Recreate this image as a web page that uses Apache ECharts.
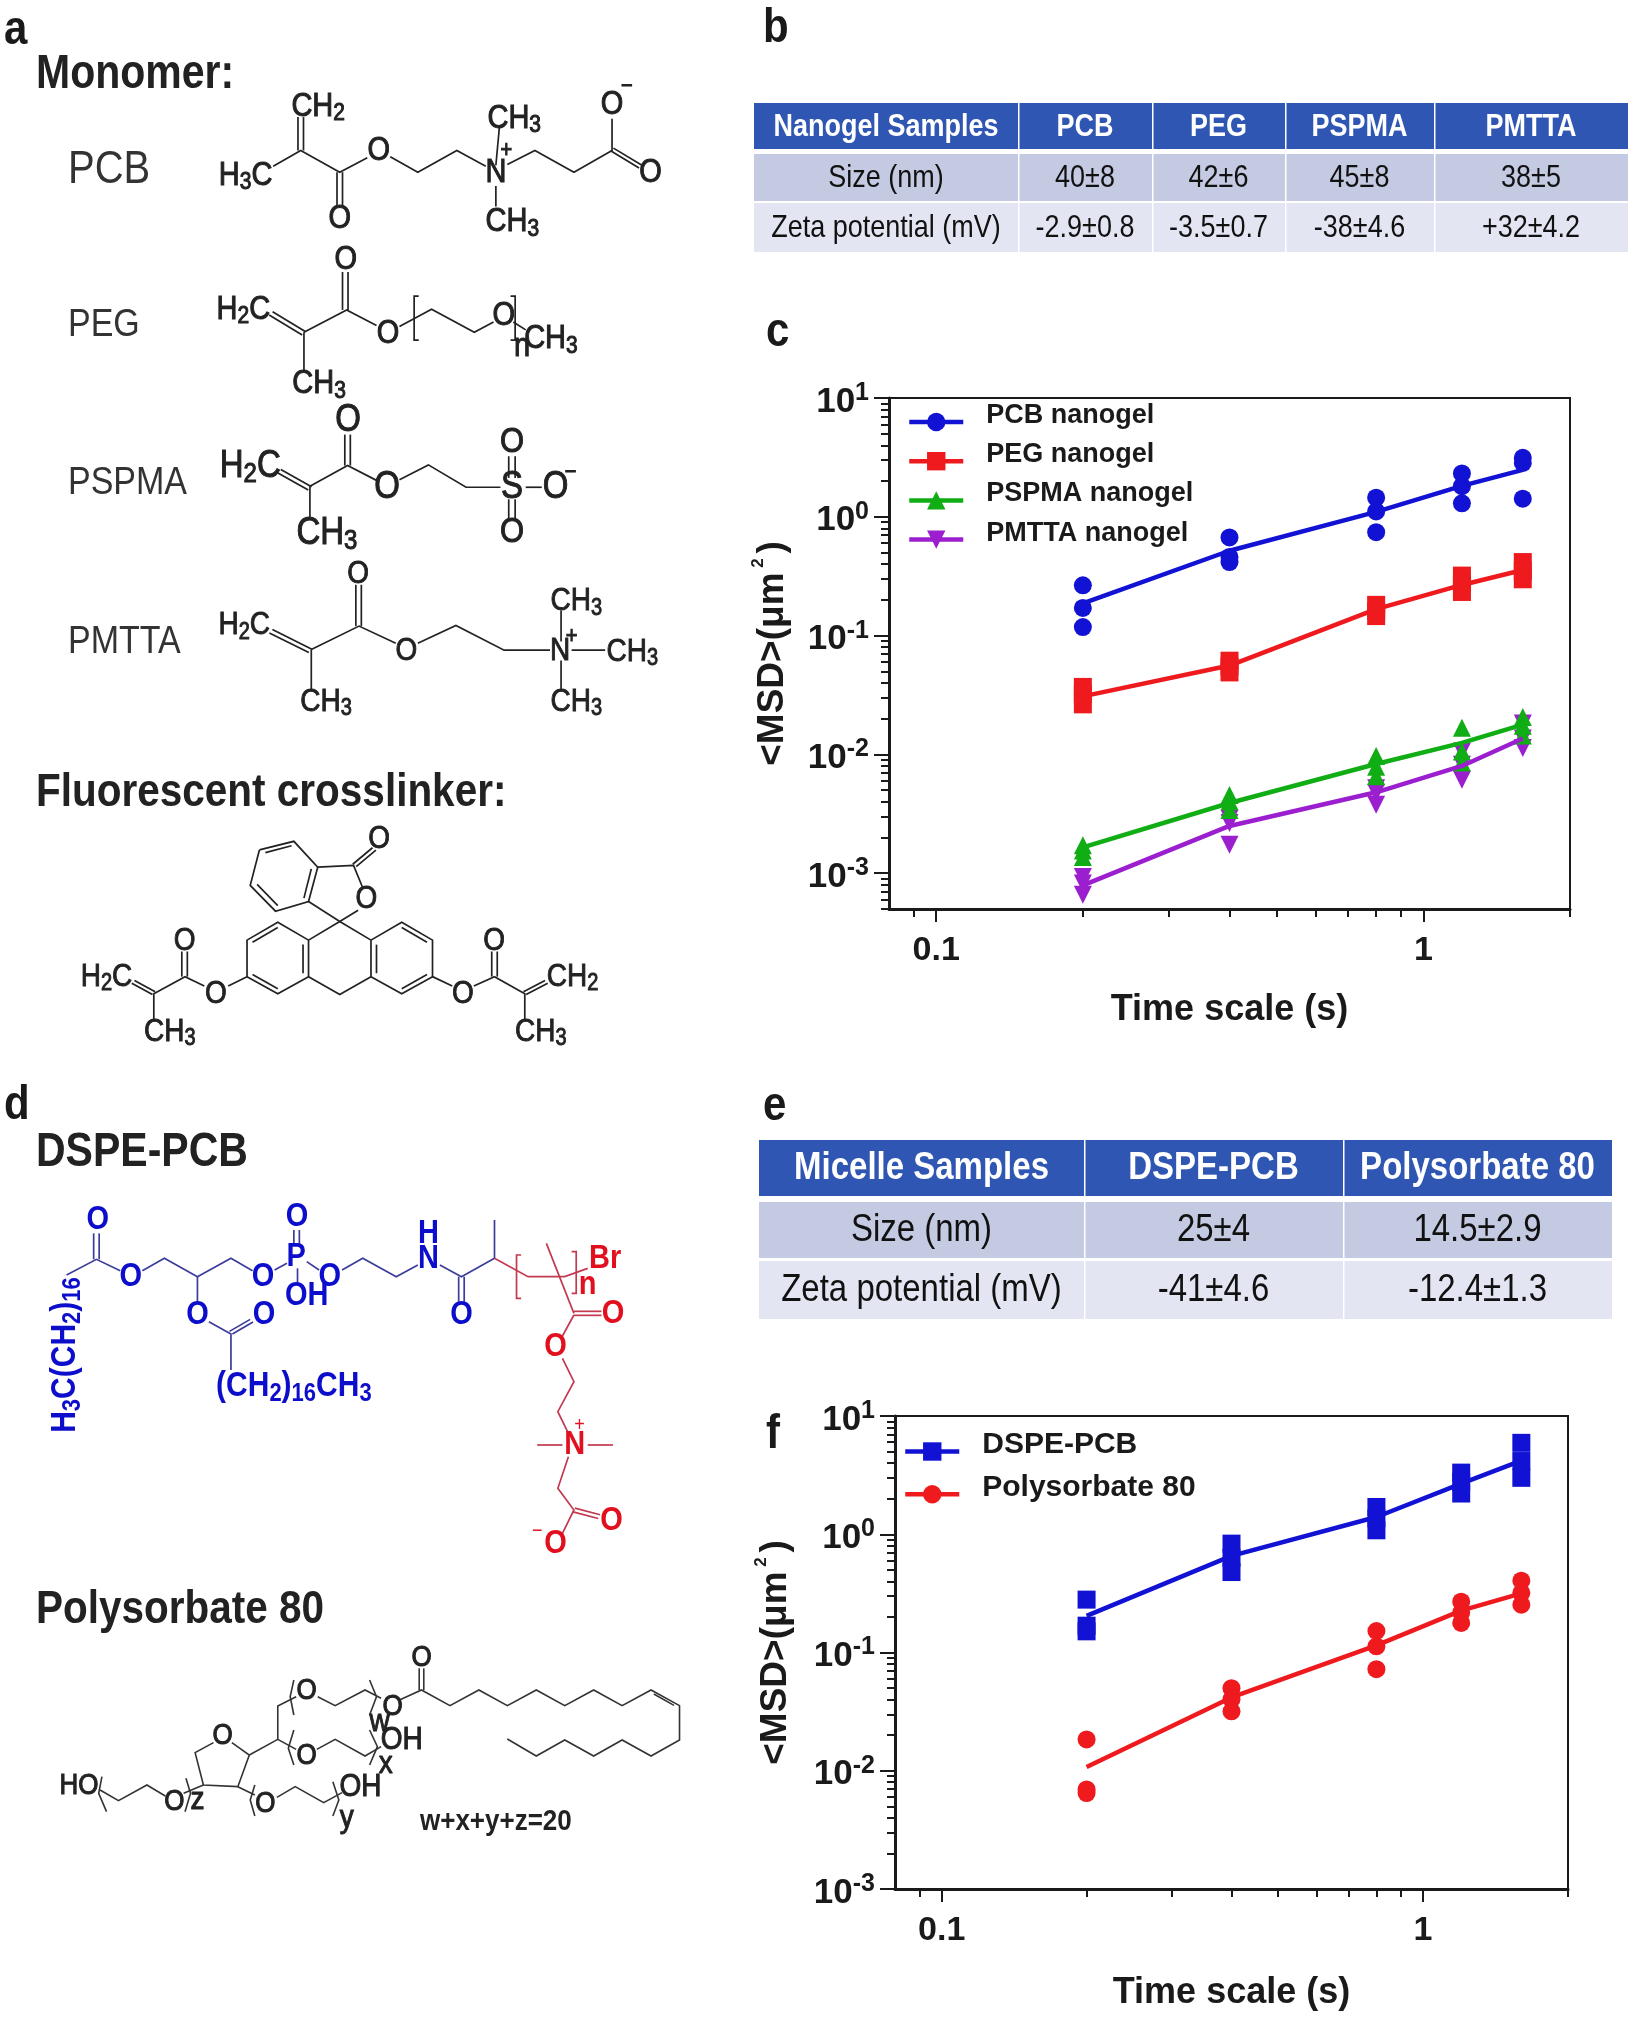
<!DOCTYPE html>
<html>
<head>
<meta charset="utf-8">
<title>MSD nanogel micelle</title>
<script src="https://cdn.jsdelivr.net/npm/echarts@6/dist/echarts.min.js"></script>
<style>
html,body{margin:0;padding:0;background:#fff;}
#main{width:1635px;height:2017px;}
</style>
</head>
<body>
<div id="main"></div>
<script>
// panel c data
const timePoints = [0.2, 0.4, 0.8, 1.2, 1.6];
const pcbMean = [0.187, 0.518, 1.10, 1.82, 2.48];
const pcbReps = [[0.265, 0.171, 0.118], [0.67, 0.46, 0.416], [1.45, 1.11, 0.743], [2.32, 1.81, 1.30], [3.14, 2.84, 1.42]];
const pegMean = [0.0308, 0.056, 0.167, 0.267, 0.357];
const pegReps = [[0.037, 0.0322, 0.0264], [0.0615, 0.055, 0.049], [0.1815, 0.1615, 0.146], [0.32, 0.273, 0.233], [0.416, 0.352, 0.298]];
const pspmaMean = [0.00165, 0.0039, 0.0083, 0.0125, 0.0178];
const pspmaReps = [[0.00172, 0.00155, 0.00137], [0.00456, 0.00403, 0.0034], [0.0097, 0.00787, 0.00655], [0.01675, 0.01057, 0.00857], [0.0207, 0.01746, 0.0144]];
const pmttaMean = [0.00079, 0.0025, 0.0048, 0.008, 0.0136];
const pmttaReps = [[0.00093, 0.00082, 0.00066], [0.00288, 0.00265, 0.00174], [0.00518, 0.00476, 0.00377], [0.01057, 0.0082, 0.00612], [0.0182, 0.0136, 0.0113]];
// panel f data
const dspeMean = [0.204, 0.657, 1.4, 2.68, 4.2];
const dspeReps = [[0.28, 0.1686, 0.151], [0.833, 0.632, 0.479], [1.7, 1.36, 1.08], [3.32, 2.77, 2.21], [5.93, 4.16, 3.0]];
const psMean = [0.01074, 0.0417, 0.115, 0.226, 0.316];
const psReps = [[0.0184, 0.00695, 0.00647], [0.0499, 0.0403, 0.0318], [0.152, 0.1127, 0.0723], [0.269, 0.217, 0.178], [0.405, 0.32, 0.254]];
// ticks
const xMajor = [0.1, 1];
const xMinor = [0.09, 0.2, 0.3, 0.4, 0.5, 0.6, 0.7, 0.8, 0.9, 2];
const yMajor = [0.001, 0.01, 0.1, 1, 10];
const yMinorC = [0.0005, 0.0006, 0.0007, 0.0008, 0.0009, 0.002, 0.003, 0.004, 0.005, 0.006, 0.007, 0.008, 0.009, 0.02, 0.03, 0.04, 0.05, 0.06, 0.07, 0.08, 0.09, 0.2, 0.3, 0.4, 0.5, 0.6, 0.7, 0.8, 0.9, 2, 3, 4, 5, 6, 7, 8, 9];
const yMinorF = yMinorC.slice(5);
// tables
const nanogelHead = ['Nanogel Samples', 'PCB', 'PEG', 'PSPMA', 'PMTTA'];
const nanogelSize = ['Size (nm)', '40±8', '42±6', '45±8', '38±5'];
const nanogelZeta = ['Zeta potential (mV)', '-2.9±0.8', '-3.5±0.7', '-38±4.6', '+32±4.2'];
const micelleHead = ['Micelle Samples', 'DSPE-PCB', 'Polysorbate 80'];
const micelleSize = ['Size (nm)', '25±4', '14.5±2.9'];
const micelleZeta = ['Zeta potential (mV)', '-41±4.6', '-12.4±1.3'];

const BLUE = '#1212d4', RED = '#ee1a1e', GREEN = '#10ad14', PURPLE = '#9b1fcf';
const FONT = '"Liberation Sans", Arial, sans-serif';

function repPairs(reps) {
  const out = [];
  reps.forEach((r, i) => r.forEach(v => out.push([timePoints[i], v])));
  return out;
}
function group(name, color, symbol, mean, reps, xi, yi, rotate) {
  return [
    {
      type: 'line', name: name, xAxisIndex: xi, yAxisIndex: yi, color: color,
      data: mean.map((v, i) => [timePoints[i], v]),
      showSymbol: false, symbol: symbol, symbolRotate: rotate || 0,
      lineStyle: {width: 4.5, color: color}, itemStyle: {color: color}, z: 3, silent: true
    },
    {
      type: 'scatter', name: name, xAxisIndex: xi, yAxisIndex: yi,
      data: repPairs(reps), symbol: symbol, symbolSize: 18, symbolRotate: rotate || 0,
      itemStyle: {color: color, opacity: 1}, z: 2, silent: true
    }
  ];
}
function axesFor(gi, nameGapX, nameGapY, yMin, yMinor) {
  const xCommon = {type: 'log', logBase: 10, gridIndex: gi, min: 0.08, max: 2, position: 'bottom', splitLine: {show: false}};
  const yCommon = {type: 'log', logBase: 10, gridIndex: gi, min: yMin, max: 10, position: 'left', splitLine: {show: false}};
  return {
    x: [
      Object.assign({}, xCommon, {
        name: 'Time scale (s)', nameLocation: 'middle', nameGap: nameGapX,
        nameTextStyle: {fontFamily: FONT, fontWeight: 'bold', fontSize: 36, color: '#1a1a1a'},
        axisLine: {show: true, lineStyle: {color: '#1a1a1a', width: 3}},
        axisTick: {show: true, length: 13, customValues: xMajor, lineStyle: {color: '#1a1a1a', width: 2}},
        axisLabel: {show: true, customValues: xMajor, margin: 25, fontFamily: FONT, fontWeight: 'bold', fontSize: 34, color: '#1a1a1a', formatter: v => String(v)}
      }),
      Object.assign({}, xCommon, {
        axisLine: {show: false},
        axisTick: {show: true, length: 8, customValues: xMinor, lineStyle: {color: '#1a1a1a', width: 2}},
        axisLabel: {show: false}
      })
    ],
    y: [
      Object.assign({}, yCommon, {
        name: '{a|<MSD>(μm}{s| 2 }{a|)}', nameLocation: 'middle', nameGap: nameGapY, nameRotate: 90,
        nameTextStyle: {
          rich: {
            a: {fontFamily: FONT, fontWeight: 'bold', fontSize: 37, color: '#1a1a1a'},
            s: {fontFamily: FONT, fontWeight: 'bold', fontSize: 17, color: '#1a1a1a', padding: [0, 0, 28, 0]}
          }
        },
        axisLine: {show: true, lineStyle: {color: '#1a1a1a', width: 3}},
        axisTick: {show: true, length: 15, customValues: yMajor, lineStyle: {color: '#1a1a1a', width: 2}},
        axisLabel: {
          show: true, customValues: yMajor, margin: 20,
          formatter: v => '{b|10}{s|' + Math.round(Math.log10(v)) + '}',
          rich: {
            b: {fontFamily: FONT, fontWeight: 'bold', fontSize: 35, color: '#1a1a1a', padding: [8, 0, 0, 0]},
            s: {fontFamily: FONT, fontWeight: 'bold', fontSize: 25, color: '#1a1a1a', padding: [0, 0, 10, 0]}
          }
        }
      }),
      Object.assign({}, yCommon, {
        axisLine: {show: false},
        axisTick: {show: true, length: 8, customValues: yMinor, lineStyle: {color: '#1a1a1a', width: 2}},
        axisLabel: {show: false}
      })
    ]
  };
}

// --- text and bond helpers for the drawn panels
const INK = '#222222';
const elements = [];
function txt(x, y, text, size, weight, color, align, extra) {
  const rich = {
    m: {fontFamily: FONT, fontSize: size, fontWeight: weight, fill: color},
    s: {fontFamily: FONT, fontSize: Math.round(size * 0.72), fontWeight: weight, fill: color, padding: [Math.round(size * 0.42), 0, 0, 0]},
    u: {fontFamily: FONT, fontSize: Math.round(size * 0.72), fontWeight: weight, fill: color, padding: [0, 0, Math.round(size * 0.42), 0]}
  };
  if (extra && extra.thick) {
    ['m', 's', 'u'].forEach(k => { rich[k].stroke = color; rich[k].lineWidth = extra.thick; });
  }
  const parts = text.split(/(_[0-9a-z]+|\^[^ ]+)/).filter(p => p);
  const body = parts.map(p => {
    if (p[0] === '_') return '{s|' + p.slice(1) + '}';
    if (p[0] === '^') return '{u|' + p.slice(1) + '}';
    return '{m|' + p + '}';
  }).join('');
  elements.push({
    type: 'text', x: x, y: y, rotation: extra && extra.rotation || 0, scaleY: 1.15, silent: true, z: 20,
    style: {text: body, rich: rich, align: align || 'center', verticalAlign: 'middle', fill: color, fontFamily: FONT, fontSize: size}
  });
}
// A view maps zoom-crop coordinates of a drawing to page coordinates
function view(sx, sy, ox, oy, color, size, weight, bondColor, bondWidth, thick) {
  const px = x => ox + x / sx, py = y => oy + y / sy;
  return {
    bonds(list, c) {
      list.forEach(b => {
        const pts = [];
        for (let i = 0; i < b.length; i += 2) pts.push([px(b[i]), py(b[i + 1])]);
        elements.push({type: 'polyline', silent: true, z: 10, shape: {points: pts}, style: {stroke: c || bondColor, lineWidth: bondWidth, fill: null}});
      });
    },
    atoms(list, c, fs, w) {
      list.forEach(a => txt(px(a[0]), py(a[1]), a[2], a[3] || fs || size, w || weight, c || color, 'center', {thick: thick}));
    },
    px: px, py: py
  };
}
function dbl(x1, y1, x2, y2, off) {
  off = off || 6;
  const dx = x2 - x1, dy = y2 - y1, l = Math.hypot(dx, dy);
  const nx = -dy / l * off, ny = dx / l * off;
  return [[x1 + nx, y1 + ny, x2 + nx, y2 + ny], [x1 - nx, y1 - ny, x2 - nx, y2 - ny]];
}

// panel letters and headings
[['a', 4, 31], ['b', 763, 29], ['c', 766, 333], ['d', 4, 1106], ['e', 763, 1107], ['f', 766, 1435]].forEach(l => txt(l[1], l[2], l[0], 42, 'bold', '#1a1a1a', 'left'));
txt(36, 75, 'Monomer:', 41, 'bold', '#222', 'left');
txt(36, 793, 'Fluorescent crosslinker:', 40.5, 'bold', '#222', 'left');
txt(36, 1153, 'DSPE-PCB', 41, 'bold', '#222', 'left');
txt(36, 1610, 'Polysorbate 80', 40.5, 'bold', '#222', 'left');
txt(68, 170, 'PCB', 40, 'normal', '#333', 'left');
txt(68, 325, 'PEG', 34, 'normal', '#333', 'left');
txt(68, 483, 'PSPMA', 34, 'normal', '#333', 'left');
txt(68, 642, 'PMTTA', 34, 'normal', '#333', 'left');

// monomers, upper crop
const upper = view(2.178, 2.904, 0, 0, INK, 29, 'normal', INK, 1.7, 0.9);
upper.bonds([
  ...dbl(655, 340, 655, 437), [595, 483, 655, 437, 740, 500, 800, 458], ...dbl(740, 500, 740, 600),
  [850, 455, 910, 500, 995, 437, 1058, 483], [1080, 480, 1088, 365], [1080, 540, 1080, 600],
  [1105, 478, 1165, 437, 1250, 500, 1333, 437, 1333, 345], ...dbl(1333, 434, 1395, 484, 5)
]);
upper.atoms([
  [693, 310, 'CH_2'], [535, 510, 'H_3C'], [825, 437, 'O'], [740, 635, 'O'], [1120, 345, 'CH_3'],
  [1080, 503, 'N'], [1116, 645, 'CH_3'], [1333, 305, 'O'], [1417, 503, 'O']
]);
upper.atoms([[1103, 438, '+', 20], [1365, 252, '−', 20]]);
// PEG
upper.bonds([
  ...dbl(590, 910, 662, 968, 6), [662, 965, 755, 900, 820, 945], ...dbl(752, 900, 752, 790),
  [870, 948, 940, 898, 1033, 965, 1075, 935], [912, 860, 902, 860, 902, 988, 912, 988],
  [1112, 860, 1122, 860, 1122, 988, 1112, 988], [1118, 935, 1145, 958], [662, 965, 662, 1080]
]);
upper.atoms([
  [530, 900, 'H_2C'], [753, 755, 'O'], [845, 968, 'O'], [1097, 918, 'O'], [1137, 1008, 'n'],
  [1200, 985, 'CH_3'], [695, 1115, 'CH_3']
]);
// PSPMA
upper.bonds([
  ...dbl(608, 1368, 675, 1418, 6), [675, 1412, 757, 1352, 820, 1395], ...dbl(757, 1352, 757, 1262),
  [870, 1393, 933, 1350, 1015, 1415, 1090, 1415], ...dbl(1115, 1388, 1115, 1325, 7), ...dbl(1115, 1450, 1115, 1510, 7),
  [1145, 1415, 1180, 1415], [675, 1412, 675, 1505]
]);
upper.atoms([
  [545, 1355, 'H_2C', 33], [758, 1220, 'O', 33], [843, 1415, 'O', 33], [1115, 1285, 'O', 31], [1115, 1415, 'S', 33],
  [1115, 1545, 'O', 31], [1210, 1415, 'O', 33], [712, 1550, 'CH_3', 33]
]);
upper.atoms([[1243, 1372, '−', 20]]);

// PMTTA and crosslinker
const mid = view(2.178, 2.904, 0, 540, INK, 28, 'normal', INK, 1.7, 0.8);
mid.bonds([
  ...dbl(590, 265, 676, 322, 6), [678, 318, 782, 250, 862, 300], ...dbl(781, 250, 781, 130),
  [910, 300, 993, 248, 1098, 320, 1198, 320], [1222, 205, 1222, 295], [1245, 320, 1318, 320], [1222, 350, 1222, 435], [678, 318, 678, 438]
]);
mid.atoms([
  [532, 248, 'H_2C'], [780, 100, 'O'], [885, 322, 'O'], [1220, 322, 'N'], [1255, 178, 'CH_3'],
  [1377, 325, 'CH_3'], [1255, 470, 'CH_3'], [710, 470, 'CH_3']
]);
mid.atoms([[1245, 282, '+', 20]]);
mid.bonds([
  [565, 900, 640, 875, 692, 950, 672, 1050, 600, 1078, 545, 1003, 565, 900],
  [578, 908, 635, 888], [678, 955, 662, 1040], [560, 1000, 605, 1062],
  [692, 950, 770, 945, 790, 1010], ...dbl(772, 945, 815, 897, 5), [780, 1075, 740, 1108, 672, 1050],
  [740, 1108, 672, 1162, 605, 1110, 538, 1162, 538, 1268, 605, 1318, 672, 1268, 672, 1162],
  [740, 1108, 808, 1162, 875, 1110, 942, 1162, 942, 1268, 875, 1318, 808, 1268, 808, 1162],
  [672, 1268, 740, 1320, 808, 1268],
  [605, 1125, 550, 1168], [550, 1262, 605, 1303], [660, 1175, 660, 1258],
  [875, 1125, 930, 1168], [930, 1262, 875, 1303], [820, 1175, 820, 1258],
  [538, 1268, 497, 1295], [445, 1295, 403, 1268, 335, 1318, 335, 1393], ...dbl(402, 1268, 402, 1195), ...dbl(335, 1316, 290, 1283, 5),
  [942, 1268, 985, 1295], [1032, 1295, 1077, 1268, 1143, 1318, 1143, 1393], ...dbl(1077, 1268, 1077, 1195), ...dbl(1143, 1316, 1190, 1283, 5)
]);
mid.atoms([
  [826, 870, 'O'], [798, 1042, 'O'], [470, 1318, 'O'], [402, 1165, 'O'], [232, 1268, 'H_2C'], [370, 1428, 'CH_3'],
  [1008, 1318, 'O'], [1076, 1165, 'O'], [1247, 1268, 'CH_2'], [1178, 1428, 'CH_3']
]);

// DSPE-PCB
const DB = '#0d0dcc', DBL = '#3c3c9c', DR = '#e2101e', DRL = '#c23a50';
const dspe = view(2.178, 3, 0, 1080, DB, 29, 'bold', DBL, 1.7, 0);
dspe.bonds([
  [145, 585, 210, 538, 262, 572], ...dbl(210, 538, 210, 460), [310, 572, 358, 535, 430, 590, 503, 535, 550, 572],
  [598, 570, 625, 550], ...dbl(646, 495, 646, 450), [648, 565, 648, 610], [668, 545, 695, 570],
  [745, 570, 790, 535, 863, 590, 910, 555], [958, 555, 1005, 590, 1077, 535, 1077, 420], ...dbl(1005, 590, 1005, 665),
  [430, 590, 430, 670], [455, 725, 503, 762, 503, 870], ...dbl(503, 758, 548, 722, 5)
]);
dspe.atoms([
  [213, 420, 'O'], [285, 590, 'O'], [573, 590, 'O'], [645, 530, 'P'], [647, 410, 'O'], [668, 648, 'OH'], [718, 590, 'O'],
  [933, 535, 'N'], [933, 462, 'H'], [1005, 703, 'O'], [430, 705, 'O'], [575, 705, 'O'], [640, 920, '(CH_2)_16CH_3', 30]
]);
txt(dspe.px(143), dspe.py(825), 'H_3C(CH_2)_16', 30, 'bold', DB, 'center', {rotation: Math.PI / 2});
dspe.bonds([
  [1077, 535, 1150, 590, 1230, 590, 1280, 565], [1190, 490, 1250, 700], [1135, 525, 1125, 525, 1125, 655, 1135, 655],
  [1245, 515, 1255, 515, 1255, 640, 1245, 640], ...dbl(1250, 700, 1310, 700, 6), [1250, 705, 1225, 768],
  [1225, 835, 1250, 905, 1215, 995, 1238, 1060], [1170, 1095, 1225, 1095], [1280, 1095, 1335, 1095],
  [1238, 1130, 1215, 1225, 1250, 1290, 1225, 1360], ...dbl(1250, 1290, 1305, 1310, 6)
], DRL);
dspe.atoms([
  [1318, 535, 'Br'], [1280, 615, 'n'], [1335, 700, 'O'], [1210, 800, 'O'], [1252, 1095, 'N'], [1332, 1322, 'O'], [1210, 1390, 'O']
], DR);
dspe.atoms([[1262, 1035, '+', 18], [1170, 1355, '−', 18]], DR, 18, 'normal');

// Polysorbate 80
const ps = view(2.178, 3, 0, 1560, INK, 26, 'normal', '#333', 1.6, 0.9);
ps.bonds([
  ...dbl(918, 390, 918, 325, 5), [870, 420, 918, 390, 980, 437, 1043, 390, 1105, 437, 1168, 390, 1230, 437, 1293, 390, 1355, 437, 1418, 390, 1480, 437, 1480, 540, 1418, 588, 1355, 540, 1293, 588, 1230, 540, 1168, 588, 1105, 537],
  [1424, 402, 1468, 436],
  [465, 548, 425, 578, 443, 675, 518, 680, 543, 585, 505, 548], [543, 585, 605, 538, 605, 438, 645, 410],
  [692, 410, 730, 437, 795, 390, 830, 415], [640, 360, 632, 410, 640, 465], [805, 360, 820, 410, 805, 465],
  [605, 538, 645, 568], [690, 568, 730, 538, 795, 588, 830, 560], [640, 510, 628, 565, 640, 615], [805, 510, 822, 560, 805, 615],
  [518, 680, 555, 705], [603, 712, 643, 680, 705, 728, 745, 698], [555, 675, 545, 720, 555, 768], [725, 665, 738, 720, 725, 768],
  [443, 675, 400, 700], [360, 708, 320, 675, 258, 722, 218, 690], [222, 650, 215, 700, 232, 755], [405, 655, 415, 700, 403, 755]
]);
ps.atoms([
  [918, 292, 'O'], [855, 440, 'O'], [485, 527, 'O'], [668, 392, 'O'], [827, 485, 'w', 28], [875, 540, 'OH', 28], [668, 588, 'O'], [840, 612, 'x', 28],
  [578, 730, 'O'], [785, 682, 'OH', 28], [755, 775, 'y', 28], [380, 725, 'O'], [430, 720, 'z', 28], [172, 676, 'HO']
]);
txt(ps.px(1080), ps.py(785), 'w+x+y+z=20', 26, 'bold', '#222', 'center');

// tables
function table(xs, rows, ys, size) {
  const fills = ['#3056b3', '#c3cae2', '#e3e6f2'];
  rows.forEach((row, r) => {
    row.forEach((cell, c) => {
      elements.push({
        type: 'rect', silent: true, z: 5,
        shape: {x: xs[c] + (c ? 1.5 : 0), y: ys[r][0], width: xs[c + 1] - xs[c] - (c ? 1.5 : 0), height: ys[r][1] - ys[r][0]},
        style: {fill: fills[r]}
      });
      txt((xs[c] + xs[c + 1]) / 2, (ys[r][0] + ys[r][1]) / 2 + 1, cell, size, r ? 'normal' : 'bold', r ? '#111' : '#fff', 'center');
    });
  });
}
table([754, 1018, 1152, 1285, 1434, 1628], [nanogelHead, nanogelSize, nanogelZeta], [[103, 149], [154, 201], [203, 252]], 27);
table([759, 1084, 1343, 1612], [micelleHead, micelleSize, micelleZeta], [[1140, 1196], [1202, 1258], [1261, 1319]], 33);

const axC = axesFor(0, 83, 94, 0.0005, yMinorC);
const axF = axesFor(1, 86, 97, 0.001, yMinorF);

const legendRich = size => ({
  a: {fontFamily: FONT, fontWeight: 'bold', fontSize: size, color: '#1a1a1a', padding: [0, 0, 13, 18]}
});

const option = {
  animation: false,
  backgroundColor: '#fff',
  graphic: {elements: elements},
  grid: [
    {left: 889, top: 398, width: 681, height: 511, show: true, borderColor: '#1a1a1a', borderWidth: 2, backgroundColor: 'transparent'},
    {left: 895, top: 1416, width: 673, height: 473, show: true, borderColor: '#1a1a1a', borderWidth: 2, backgroundColor: 'transparent'}
  ],
  xAxis: axC.x.concat(axF.x),
  yAxis: axC.y.concat(axF.y),
  legend: [
    {
      orient: 'vertical', left: 902, top: 397, itemWidth: 54, itemHeight: 23, itemGap: 10,
      data: ['PCB nanogel', 'PEG nanogel', 'PSPMA nanogel', 'PMTTA nanogel'],
      lineStyle: {width: 4.5},
      formatter: '{a|{name}}',
      textStyle: {rich: legendRich(27)}
    },
    {
      orient: 'vertical', left: 898, top: 1425, itemWidth: 54, itemHeight: 23, itemGap: 12,
      data: ['DSPE-PCB', 'Polysorbate 80'],
      lineStyle: {width: 4.5},
      formatter: '{a|{name}}',
      textStyle: {rich: legendRich(30)}
    }
  ],
  series: [
    ...group('PCB nanogel', BLUE, 'circle', pcbMean, pcbReps, 0, 0),
    ...group('PEG nanogel', RED, 'rect', pegMean, pegReps, 0, 0),
    ...group('PMTTA nanogel', PURPLE, 'triangle', pmttaMean, pmttaReps, 0, 0, 180),
    ...group('PSPMA nanogel', GREEN, 'triangle', pspmaMean, pspmaReps, 0, 0),
    ...group('DSPE-PCB', BLUE, 'rect', dspeMean, dspeReps, 2, 2),
    ...group('Polysorbate 80', RED, 'circle', psMean, psReps, 2, 2)
  ]
};

const myChart = echarts.init(document.getElementById('main'), null, {renderer: 'canvas'});
myChart.setOption(option);
</script>
</body>
</html>
